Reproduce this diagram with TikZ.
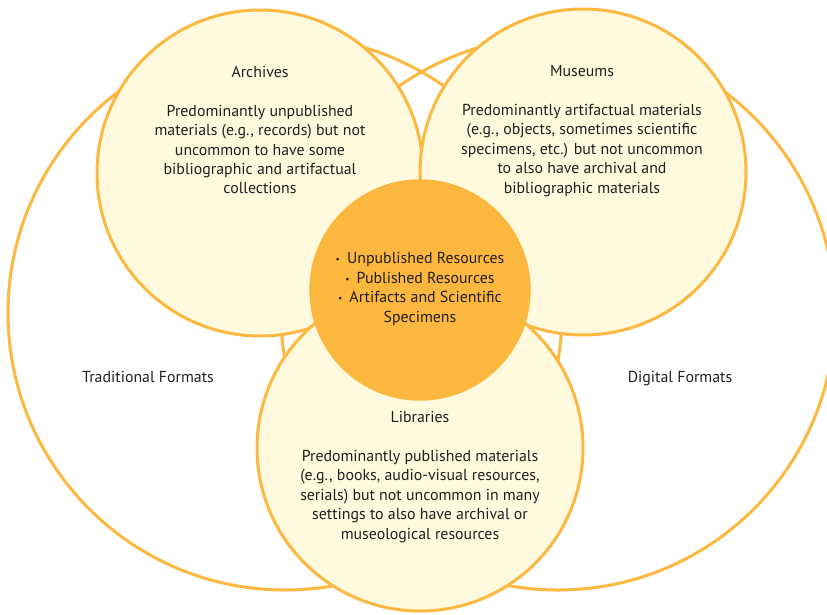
\documentclass[tikz,border=0pt]{standalone}
\usepackage{fontspec}
\setmainfont{PT Sans}
\definecolor{ringc}{RGB}{252,184,64}
\definecolor{paleY}{RGB}{255,250,222}
\definecolor{coreC}{RGB}{252,183,63}
\definecolor{txtc}{RGB}{35,31,32}
\newcommand{\blt}{{\fontsize{7pt}{7pt}\selectfont\raisebox{0.25ex}{•}}\hspace{0.45em}}
\tikzset{
  bigring/.style={circle, draw=ringc, line width=2.25pt, minimum size=415.5pt, inner sep=0pt},
  smallring/.style={circle, draw=ringc, fill=paleY, line width=2.25pt, minimum size=244.5pt, inner sep=0pt},
  corering/.style={circle, draw=coreC, fill=coreC, line width=1pt, minimum size=165pt, inner sep=0pt},
  lbl/.style={align=center, text=txtc, font=\fontsize{11.9pt}{14.6pt}\selectfont, inner sep=0pt},
}
\begin{document}
\begin{tikzpicture}[x=0.75pt,y=-0.75pt]
\useasboundingbox (0,0) rectangle (827,614);
\node[bigring] (trad) at (285,313) {};
\node[bigring] (digi) at (558,313) {};
\node[smallring] (arch) at (260,173) {};
\node[smallring] (muse) at (583,172) {};
\node[smallring] (libr) at (420,448) {};
\node[corering] (core) at (420,290) {};
\node[lbl] (archt) at (260,130) {Archives\\[14.6pt]Predominantly unpublished\\materials (e.g., records) but not\\uncommon to have some\\bibliographic and artifactual\\collections};
\node[lbl] (muset) at (582,131) {Museums\\[14.6pt]Predominantly artifactual materials\\(e.g., objects, sometimes scientific\\specimens, etc.) but not uncommon\\to also have archival and\\bibliographic materials};
\node[lbl] (librt) at (420,477) {Libraries\\[14.6pt]Predominantly published materials\\(e.g., books, audio-visual resources,\\serials) but not uncommon in many\\settings to also have archival or\\museological resources};
\node[lbl] (coret) at (420,289) {\blt Unpublished Resources\\\blt Published Resources\\\blt Artifacts and Scientific\\Specimens};
\node[lbl, anchor=base] (tradt) at (148,382) {Traditional Formats};
\node[lbl, anchor=base] (digit) at (680,382) {Digital Formats};
\end{tikzpicture}
\end{document}
